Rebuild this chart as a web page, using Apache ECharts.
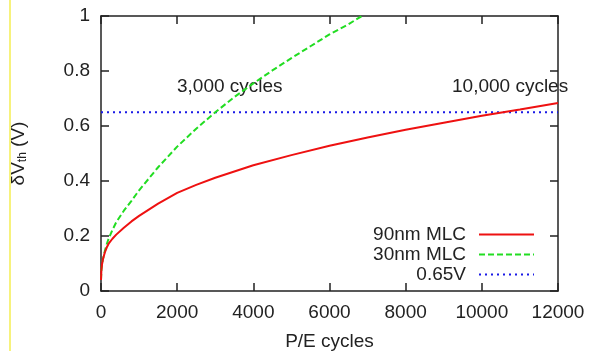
<!DOCTYPE html>
<html><head><meta charset="utf-8">
<script src="https://cdn.jsdelivr.net/npm/echarts@6/dist/echarts.min.js"></script>
<style>html,body{margin:0;padding:0;background:#fff}#c{width:589px;height:351px}</style>
</head><body><div id="c"></div>
<script>
var xRed = [0, 10, 25, 50, 100, 150, 200, 300, 400, 600, 800, 1000, 1500, 2000, 2500, 3000, 4000, 5000, 6000, 7000, 8000, 9000, 10000, 11000, 12000];
var yRed = [0.04, 0.075, 0.095, 0.115, 0.14, 0.158, 0.172, 0.19, 0.205, 0.23, 0.253, 0.273, 0.318, 0.357, 0.386, 0.412, 0.457, 0.494, 0.528, 0.558, 0.586, 0.612, 0.637, 0.66, 0.684];
var xGreen = [0, 10, 25, 50, 100, 150, 200, 300, 400, 600, 800, 1000, 1500, 2000, 2500, 3000, 3500, 4000, 4500, 5000, 5500, 6000, 6500, 6850];
var yGreen = [0.04, 0.075, 0.095, 0.115, 0.145, 0.17, 0.19, 0.222, 0.25, 0.292, 0.328, 0.366, 0.45, 0.525, 0.59, 0.65, 0.705, 0.755, 0.802, 0.847, 0.89, 0.933, 0.97, 1.0];
var xLimit = [0, 12000];
var yLimit = [0.65, 0.65];
var xTicks = [0, 2000, 4000, 6000, 8000, 10000, 12000];
var yTicks = [0, 0.2, 0.4, 0.6, 0.8, 1];
var seriesNames = ['90nm MLC', '30nm MLC', '0.65V'];
var annotations = ['3,000 cycles', '10,000 cycles'];

function pairs(xs, ys){ return xs.map(function(x,i){ return [x, ys[i]]; }); }

var FONT = 'Liberation Sans';
var FS = 19;
var axisCol = '#222';
function axisLine(){ return {show: true, onZero: false, lineStyle: {color: axisCol, width: 1.5}}; }
function axisTick(){ return {show: true, inside: true, length: 8, lineStyle: {color: axisCol, width: 1.5}}; }

var chart = echarts.init(document.getElementById('c'), null, {renderer: 'canvas'});
chart.setOption({
  animation: false,
  textStyle: {fontFamily: FONT},
  grid: {left: 101, right: 31, top: 16, bottom: 60, containLabel: false, outerBoundsMode: 'none'},
  xAxis: [
    {type: 'value', gridIndex: 0, min: xTicks[0], max: xTicks[xTicks.length-1], interval: 2000, position: 'bottom',
      axisLine: axisLine(), axisTick: axisTick(), splitLine: {show: false},
      name: 'P/E cycles', nameLocation: 'middle', nameGap: 41,
      nameTextStyle: {fontFamily: FONT, fontSize: FS, color: axisCol},
      axisLabel: {margin: 12, fontFamily: FONT, fontSize: FS, color: axisCol,
        formatter: function(v){ return String(v); }}},
    {type: 'value', gridIndex: 0, min: xTicks[0], max: xTicks[xTicks.length-1], interval: 2000, position: 'top',
      axisLine: axisLine(), axisTick: axisTick(), splitLine: {show: false},
      axisLabel: {show: false}}
  ],
  yAxis: [
    {type: 'value', gridIndex: 0, min: yTicks[0], max: yTicks[yTicks.length-1], interval: 0.2, position: 'left',
      axisLine: axisLine(), axisTick: axisTick(), splitLine: {show: false},
      name: '{d|δV}{s|th}{d| (V)}', nameLocation: 'middle', nameGap: 72, nameRotate: 90,
      nameTextStyle: {rich: {
        d: {fontFamily: FONT, fontSize: FS, color: axisCol},
        s: {fontFamily: FONT, fontSize: 12, color: axisCol, verticalAlign: 'bottom', padding: [9, 0, 0, 0]}
      }},
      axisLabel: {margin: 11, fontFamily: FONT, fontSize: FS, color: axisCol,
        formatter: function(v){ return String(Math.round(v*10)/10); }}},
    {type: 'value', gridIndex: 0, min: yTicks[0], max: yTicks[yTicks.length-1], interval: 0.2, position: 'right',
      axisLine: axisLine(), axisTick: axisTick(), splitLine: {show: false},
      axisLabel: {show: false}}
  ],
  legend: {
    right: 54, top: 225, orient: 'vertical', align: 'right', padding: 0,
    itemWidth: 55, itemHeight: 14, itemGap: 1,
    itemStyle: {opacity: 0},
    textStyle: {fontFamily: FONT, fontSize: FS, lineHeight: 16, color: axisCol, padding: [0, 8, 0, 0]},
    data: seriesNames
  },
  series: [
    {name: seriesNames[0], type: 'line', xAxisIndex: 0, yAxisIndex: 0, data: pairs(xRed, yRed), smooth: false, symbol: 'none',
     lineStyle: {color: '#ee1111', width: 2}, itemStyle: {color: '#ee1111'}, z: 3},
    {name: seriesNames[1], type: 'line', xAxisIndex: 0, yAxisIndex: 0, data: pairs(xGreen, yGreen), smooth: false, symbol: 'none',
     lineStyle: {color: '#22dd22', width: 2, type: [6, 3]}, itemStyle: {color: '#22dd22'}, z: 2},
    {name: seriesNames[2], type: 'line', xAxisIndex: 0, yAxisIndex: 0, data: pairs(xLimit, yLimit), symbol: 'none',
     lineStyle: {color: '#1a1ae6', width: 2, type: [2, 4]}, itemStyle: {color: '#1a1ae6'}, z: 1}
  ],
  graphic: [
    {type: 'line', shape: {x1: 10, y1: 0, x2: 10, y2: 351}, style: {stroke: '#f5ee50', lineWidth: 1.5}},
    {type: 'text', left: 177, top: 77, style: {text: annotations[0], font: FS + 'px "Liberation Sans"', fill: axisCol}},
    {type: 'text', left: 452, top: 77, style: {text: annotations[1], font: FS + 'px "Liberation Sans"', fill: axisCol}}
  ]
});
</script>
</body></html>
